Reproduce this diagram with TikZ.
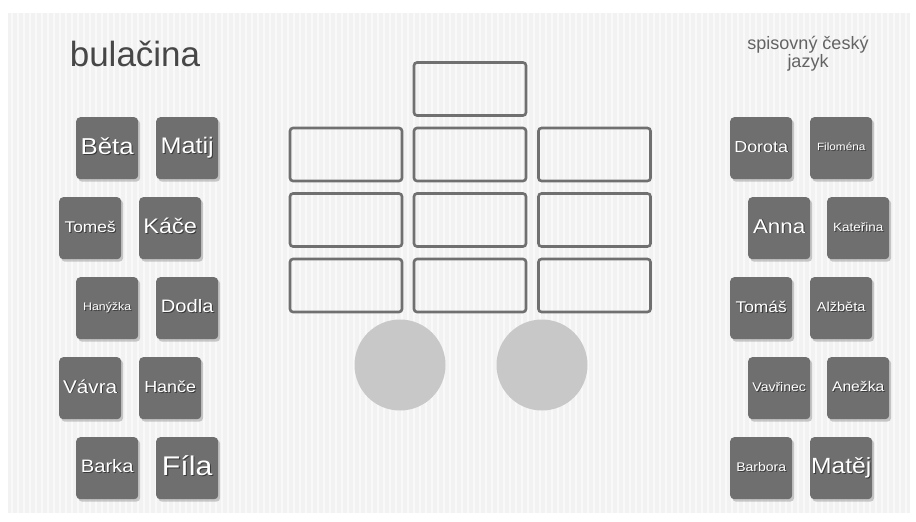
\documentclass[tikz,border=0pt]{standalone}
\usepackage{fontspec}
\setmainfont{Liberation Sans}
\usetikzlibrary{shadows}
\definecolor{bgc}{HTML}{F2F2F2}
\definecolor{tilec}{HTML}{6F6F6F}
\definecolor{framec}{HTML}{707070}
\definecolor{discc}{HTML}{C8C8C8}
\definecolor{titlec}{HTML}{474747}
\definecolor{txtshadow}{HTML}{3A3A3A}
\newcommand\tiletxt[2]{\scalebox{1.12}[1.0]{\fontsize{#1}{#1}\selectfont\vphantom{Hy}%
  \makebox[0pt][l]{\hspace{0.9pt}\raisebox{-0.9pt}{\textcolor{txtshadow}{#2}}}#2}}
\tikzset{
  tile/.style={draw=none, fill=tilec, rounded corners=4pt, minimum width=62pt, minimum height=62pt,
    inner sep=0pt, text=white, anchor=north west,
    drop shadow={shadow xshift=2pt, shadow yshift=-2.5pt, fill=black!35, opacity=0.6}},
  slot/.style={draw=framec, line width=2.6pt, rounded corners=3pt, minimum width=112pt, minimum height=53pt,
    inner sep=0pt},
  disc/.style={circle, fill=discc, draw=none, minimum size=91pt, inner sep=0pt},
  stripe/.style={white, line width=1.2pt, opacity=0.55}
}
\begin{document}
\begin{tikzpicture}[x=1pt,y=-1pt]
\useasboundingbox (0,0) rectangle (916,522);
\fill[white] (0,0) rectangle (916,522);
\fill[bgc] (8,13) rectangle (910,513);
\foreach \sx in {12,18,...,906} {\draw[stripe] (\sx,13) -- (\sx,513);}

% titles
\node[text=titlec, font=\fontsize{35}{35}\selectfont] (tl) at (135,54) {bulačina};
\node[text=titlec!85, font=\fontsize{18}{18}\selectfont, align=center] (tr) at (808,54) {spisovný český\\jazyk};

% left tiles
\node[tile] (beta) at (76,117) {\tiletxt{23}{Běta}};
\node[tile] (matij) at (156,117) {\tiletxt{22.5}{Matij}};
\node[tile] (tomes) at (59,197) {\tiletxt{15.5}{Tomeš}};
\node[tile] (kace) at (139,197) {\tiletxt{21}{Káče}};
\node[tile] (hanyzka) at (76,277) {\tiletxt{11}{Hanýžka}};
\node[tile] (dodla) at (156,277) {\tiletxt{18}{Dodla}};
\node[tile] (vavra) at (59,357) {\tiletxt{18.5}{Vávra}};
\node[tile] (hance) at (139,357) {\tiletxt{16}{Hanče}};
\node[tile] (barka) at (76,437) {\tiletxt{18}{Barka}};
\node[tile] (fila) at (156,437) {\tiletxt{27}{Fíla}};

% right tiles
\node[tile] (dorota) at (730,117) {\tiletxt{16}{Dorota}};
\node[tile] (filomena) at (810,117) {\tiletxt{10.5}{Filoména}};
\node[tile] (anna) at (748,197) {\tiletxt{20}{Anna}};
\node[tile] (katerina) at (827,197) {\tiletxt{12}{Kateřina}};
\node[tile] (tomas) at (730,277) {\tiletxt{15.5}{Tomáš}};
\node[tile] (alzbeta) at (810,277) {\tiletxt{13}{Alžběta}};
\node[tile] (vavrinec) at (748,357) {\tiletxt{12.5}{Vavřinec}};
\node[tile] (anezka) at (827,357) {\tiletxt{14}{Anežka}};
\node[tile] (barbora) at (730,437) {\tiletxt{12.5}{Barbora}};
\node[tile] (matej) at (810,437) {\tiletxt{22}{Matěj}};

% central slots
\node[slot] (s0) at (470,89) {};
\node[slot] (s11) at (346,154.5) {};
\node[slot] (s12) at (470,154.5) {};
\node[slot] (s13) at (594.5,154.5) {};
\node[slot] (s21) at (346,220) {};
\node[slot] (s22) at (470,220) {};
\node[slot] (s23) at (594.5,220) {};
\node[slot] (s31) at (346,285.5) {};
\node[slot] (s32) at (470,285.5) {};
\node[slot] (s33) at (594.5,285.5) {};

% discs
\node[disc] (d1) at (400,365) {};
\node[disc] (d2) at (542,365) {};
\end{tikzpicture}
\end{document}
